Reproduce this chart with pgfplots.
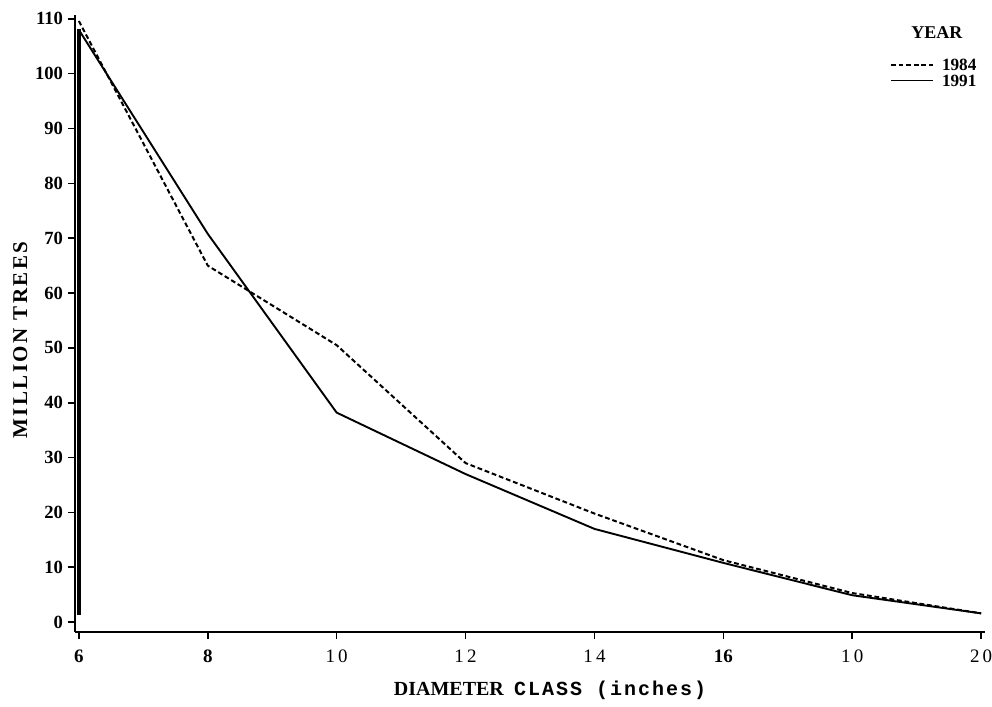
\documentclass[border=0pt]{standalone}
\usepackage{fontspec}
\setmainfont{Liberation Serif}
\setmonofont{Liberation Mono}
\usepackage{pgfplots}
\pgfplotsset{compat=1.18}
\pgfplotstableread{
x y
6 109.6
8 65
10 50.5
12 29
14 19.8
16 11.3
18 5.3
20 1.6
}\yrA
\pgfplotstableread{
x y
6 108
8 70.8
10 38.2
12 27
14 17
16 10.8
18 4.9
20 1.6
}\yrB
\begin{document}
\begin{tikzpicture}
\useasboundingbox (-37.5pt,-37.5pt) rectangle (458.5pt,316pt);
\begin{axis}[
  at={(0,0)}, anchor=south west, scale only axis,
  width=455pt, height=308.5pt,
  xmin=5.94, xmax=20.06, ymin=-1.8, ymax=110.7,
  axis lines=left,
  axis line style={-, line width=1.2pt},
  tick align=outside,
  major tick length=3.5pt,
  tick style={black, line width=0.8pt},
  xtick={6,8,10,12,14,16,18,20},
  xticklabels={\textbf{6},\textbf{8},1\,0,1\,2,1\,4,\textbf{16},1\,0,2\,0},
  xticklabel style={font=\fontsize{9.5}{10}\selectfont, yshift=-2pt},
  ytick={0,10,...,110},
  yticklabel style={font=\bfseries\fontsize{9.3}{10}\selectfont, xshift=1pt},
  /pgf/number format/assume math mode=true,
  xlabel={\textbf{DIAMETER}\hspace{5pt}{\ttfamily\bfseries\addfontfeature{LetterSpace=10}CLASS (inches)}},
  xlabel style={at={(axis description cs:0.522,-0.094)}, anchor=center, font=\fontsize{10}{12}\selectfont},
  ylabel={\bfseries\addfontfeature{LetterSpace=12}MILLION TREES},
  ylabel style={at={(axis description cs:-0.060,0.473)}, anchor=center, rotate=0, font=\fontsize{10.5}{12}\selectfont},
  legend style={draw=none, fill=none, at={(axis description cs:1.002,0.937)}, anchor=north east,
    font=\bfseries\fontsize{8.6}{8.6}\selectfont,
    nodes={inner ysep=0.5pt, text height=5.8pt, text depth=0pt},
    row sep=0.9pt, column sep=2pt},
  legend image code/.code={\draw[#1] (0pt,0pt) -- (21pt,0pt);},
  legend cell align=left,
]
\addplot[black, line width=1pt, dash pattern=on 2.4pt off 1.4pt] table[x=x,y=y]{\yrA};
\addlegendentry{1984}
\addplot[black, line width=0.95pt] table[x=x,y=y]{\yrB};
\addlegendentry{1991}
\addplot[black, line width=1.8pt, forget plot] coordinates {(6,1.3) (6,108.2)};
\node[font=\bfseries\fontsize{9}{10}\selectfont] at (axis description cs:0.947,0.972) {YEAR};
\end{axis}
\end{tikzpicture}
\end{document}
